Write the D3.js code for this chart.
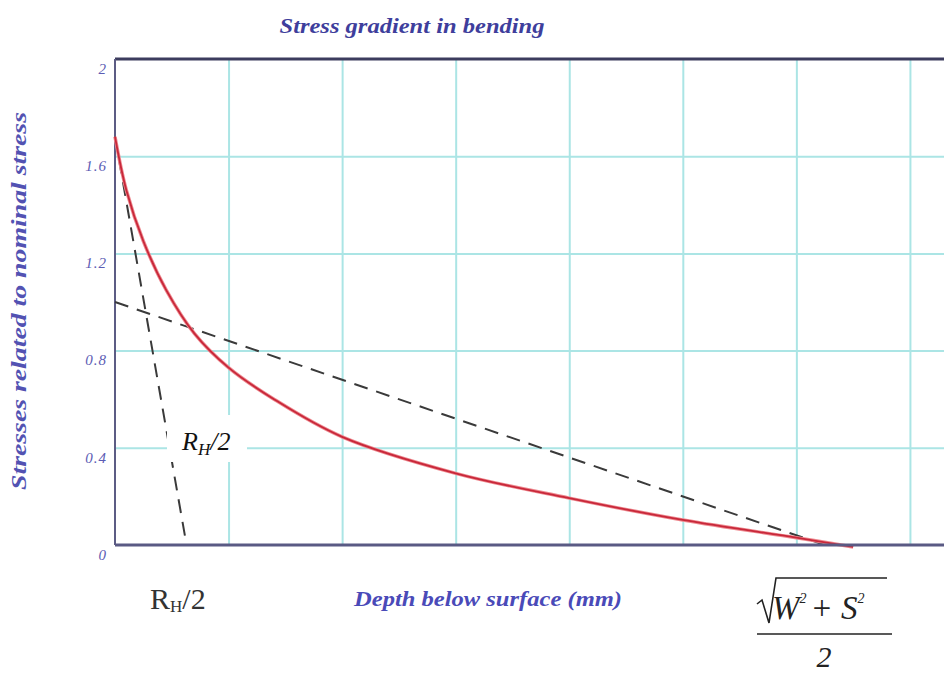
<!DOCTYPE html>
<html>
<head>
<meta charset="utf-8">
<script src="https://cdn.jsdelivr.net/npm/d3@7"></script>
<style>
  body { margin: 0; background: #fff; }
  svg { display: block; }
</style>
</head>
<body>
<svg id="chart" width="944" height="677"></svg>
<script>
// depth below surface (grid units) and stress / nominal stress
const depth = [0, 0.1, 0.25, 0.45, 0.7, 1.0, 1.4, 2.0, 3.0, 4.0, 5.0, 6.0, 6.5];
const stress = [1.68, 1.46, 1.25, 1.05, 0.87, 0.73, 0.6, 0.445, 0.295, 0.193, 0.103, 0.03, -0.008];
// the two dashed straight lines (end points)
const steepDepth = [0, 0.63];
const steepStress = [1.68, 0];
const shallowDepth = [0, 6.25];
const shallowStress = [1.0, 0];
const yTicks = [0, 0.4, 0.8, 1.2, 1.6, 2];
const yTickLabels = ["0", "0.4", "0.8", "1.2", "1.6", "2"];
const xGrid = [1, 2, 3, 4, 5, 6, 7];

const svg = d3.select("#chart");
const plotLeft = 115, plotRight = 944, plotTop = 59, plotBottom = 545;

const x = d3.scaleLinear().domain([0, 7.3]).range([plotLeft, plotRight]);
const y = d3.scaleLinear().domain([0, 2]).range([plotBottom, plotTop]);

// grid
svg.append("g")
  .attr("transform", "translate(0," + plotBottom + ")")
  .call(d3.axisBottom(x).tickValues(xGrid).tickSize(-(plotBottom - plotTop)).tickFormat(""))
  .call(g => g.select(".domain").remove())
  .selectAll("line").attr("stroke", "#abe5e5").attr("stroke-width", 2);

svg.append("g")
  .attr("transform", "translate(" + plotLeft + ",0)")
  .call(d3.axisLeft(y).tickValues([0.4, 0.8, 1.2, 1.6]).tickSize(-(plotRight - plotLeft)).tickFormat(""))
  .call(g => g.select(".domain").remove())
  .selectAll("line").attr("stroke", "#abe5e5").attr("stroke-width", 2);

// y tick labels
const yAxis = svg.append("g")
  .attr("transform", "translate(" + (plotLeft - 8) + ",0)")
  .call(d3.axisLeft(y).tickValues(yTicks).tickSize(0)
    .tickFormat((d, i) => yTickLabels[i]));
yAxis.select(".domain").remove();
yAxis.selectAll("text")
  .attr("dy", "0.95em")
  .attr("x", 0)
  .attr("font-family", "Liberation Serif, serif")
  .attr("font-style", "italic")
  .attr("font-size", 15)
  .attr("letter-spacing", 1)
  .attr("fill", "#5c5cb4");

// frame
svg.append("line").attr("x1", plotLeft).attr("x2", plotRight).attr("y1", y(2)).attr("y2", y(2))
  .attr("stroke", "#3c3c5e").attr("stroke-width", 3);
svg.append("line").attr("x1", plotLeft).attr("x2", plotLeft).attr("y1", y(2)).attr("y2", y(0))
  .attr("stroke", "#5c5c84").attr("stroke-width", 2);

// dashed lines
const straight = d3.line().x(d => x(d[0])).y(d => y(d[1]));
svg.append("path")
  .datum(d3.zip(steepDepth, steepStress))
  .attr("d", straight)
  .attr("fill", "none").attr("stroke", "#3a3a3a").attr("stroke-width", 2)
  .attr("stroke-dasharray", "14,9");
svg.append("path")
  .datum(d3.zip(shallowDepth, shallowStress))
  .attr("d", straight)
  .attr("fill", "none").attr("stroke", "#3a3a3a").attr("stroke-width", 2)
  .attr("stroke-dasharray", "14,9");

// stress curve
const curve = d3.line().x(d => x(d[0])).y(d => y(d[1])).curve(d3.curveCatmullRom.alpha(0.5));
svg.append("path")
  .datum(d3.zip(depth, stress))
  .attr("d", curve)
  .attr("fill", "none").attr("stroke", "#ee8a90").attr("stroke-width", 3.5);
svg.append("path")
  .datum(d3.zip(depth, stress))
  .attr("d", curve)
  .attr("fill", "none").attr("stroke", "#c8283a").attr("stroke-width", 1.8);

// bottom axis line
svg.append("line").attr("x1", plotLeft).attr("x2", plotRight).attr("y1", y(0)).attr("y2", y(0))
  .attr("stroke", "#5a5a84").attr("stroke-width", 3);

// inner label on white box
svg.append("rect").attr("x", 167).attr("y", 415).attr("width", 80).attr("height", 47).attr("fill", "#fff");
const inner = svg.append("text").attr("x", 182).attr("y", 450)
  .attr("font-family", "Liberation Serif, serif").attr("font-style", "italic")
  .attr("font-size", 26).attr("fill", "#111");
inner.append("tspan").text("R");
inner.append("tspan").attr("font-size", 17).attr("dy", 5).text("H");
inner.append("tspan").attr("dy", -5).text("/2");

// title and axis titles
svg.append("text").attr("x", 412).attr("y", 33).attr("text-anchor", "middle")
  .attr("font-family", "Liberation Serif, serif").attr("font-style", "italic").attr("font-weight", "bold")
  .attr("font-size", 21).attr("fill", "#3e3e9c")
  .attr("textLength", 265).attr("lengthAdjust", "spacingAndGlyphs")
  .text("Stress gradient in bending");

svg.append("text").attr("transform", "translate(26,301) rotate(-90)").attr("text-anchor", "middle")
  .attr("font-family", "Liberation Serif, serif").attr("font-style", "italic").attr("font-weight", "bold")
  .attr("font-size", 20).attr("fill", "#5252b2")
  .attr("textLength", 378).attr("lengthAdjust", "spacingAndGlyphs")
  .text("Stresses related to nominal stress");

svg.append("text").attr("x", 488).attr("y", 606).attr("text-anchor", "middle")
  .attr("font-family", "Liberation Serif, serif").attr("font-style", "italic").attr("font-weight", "bold")
  .attr("font-size", 20).attr("fill", "#4a4ab8")
  .attr("textLength", 268).attr("lengthAdjust", "spacingAndGlyphs")
  .text("Depth below surface (mm)");

// R_H/2 under the axis
const rh = svg.append("text").attr("x", 150).attr("y", 609)
  .attr("font-family", "Liberation Serif, serif").attr("font-size", 30).attr("fill", "#333");
rh.append("tspan").text("R");
rh.append("tspan").attr("font-size", 17).attr("dy", 3).text("H");
rh.append("tspan").attr("dy", -3).text("/2");

// sqrt(W^2 + S^2) / 2
const fx = 757;
svg.append("path")
  .attr("d", "M" + fx + ",604 L" + (fx + 5) + ",600 L" + (fx + 12) + ",623 L" + (fx + 19) + ",578 L887,578")
  .attr("fill", "none").attr("stroke", "#222").attr("stroke-width", 1.6);
const num = svg.append("text").attr("x", 772).attr("y", 619)
  .attr("font-family", "Liberation Serif, serif").attr("font-style", "italic")
  .attr("font-size", 33).attr("fill", "#222");
num.append("tspan").text("W");
num.append("tspan").attr("font-size", 14).attr("dy", -16).text("2");
num.append("tspan").attr("dy", 16).attr("dx", 4).text("+ S");
num.append("tspan").attr("font-size", 14).attr("dy", -16).text("2");
svg.append("line").attr("x1", fx).attr("x2", 892).attr("y1", 634).attr("y2", 634)
  .attr("stroke", "#222").attr("stroke-width", 1.6);
svg.append("text").attr("x", 824).attr("y", 667).attr("text-anchor", "middle")
  .attr("font-family", "Liberation Serif, serif").attr("font-style", "italic")
  .attr("font-size", 30).attr("fill", "#222").text("2");
</script>
</body>
</html>
